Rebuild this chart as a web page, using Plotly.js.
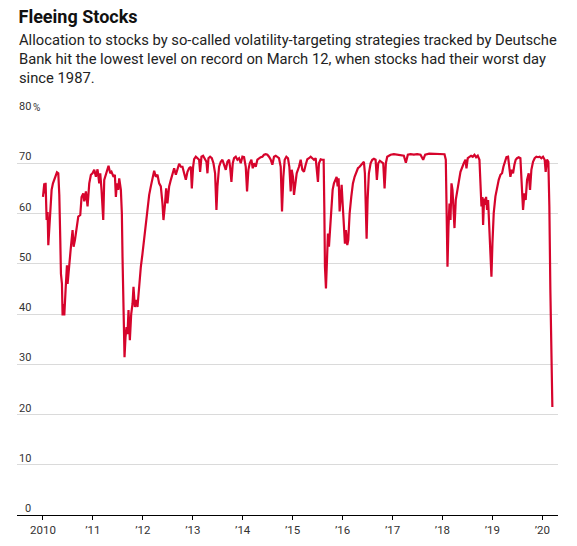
<!DOCTYPE html>
<html>
<head>
<meta charset="utf-8">
<script src="https://cdn.plot.ly/plotly-3.0.1.min.js"></script>
<style>
html,body{margin:0;padding:0;background:#fff;}
#chart{width:577px;height:546px;}
</style>
</head>
<body>
<div id="chart"></div>
<script>
// ---- data (decimal years, allocation %) ----
var years = [
2010.000,2010.027,2010.040,2010.053,2010.073,2010.093,2010.107,2010.127,2010.147,2010.173,
2010.200,2010.227,2010.260,2010.280,2010.307,2010.327,2010.347,2010.360,2010.380,2010.393,
2010.413,2010.427,2010.453,2010.480,2010.493,2010.527,2010.560,2010.593,2010.613,2010.640,
2010.680,2010.707,2010.747,2010.773,2010.807,2010.827,2010.860,2010.893,2010.927,2010.960,
2010.993,2011.027,2011.060,2011.093,2011.127,2011.147,2011.173,2011.207,2011.227,2011.260,
2011.293,2011.313,2011.347,2011.373,2011.413,2011.440,2011.460,2011.480,2011.507,2011.527,
2011.560,2011.580,2011.593,2011.607,2011.620,2011.633,2011.653,2011.673,2011.693,2011.713,
2011.740,2011.767,2011.793,2011.813,2011.840,2011.867,2011.893,2011.927,2011.960,2011.993,
2012.027,2012.060,2012.093,2012.127,2012.160,2012.193,2012.227,2012.260,2012.293,2012.327,
2012.360,2012.393,2012.413,2012.440,2012.467,2012.493,
2012.527,2012.561,2012.594,2012.627,2012.661,2012.694,2012.727,2012.761,2012.794,2012.827,
2012.861,2012.894,2012.927,2012.961,2012.981,2013.007,2013.027,2013.061,2013.094,2013.127,
2013.147,2013.174,2013.207,2013.241,2013.274,2013.294,2013.314,2013.347,2013.381,2013.414,
2013.447,2013.474,2013.494,2013.527,2013.561,2013.594,2013.627,2013.661,2013.694,2013.727,
2013.747,2013.774,2013.801,2013.827,2013.861,2013.894,2013.927,2013.961,2013.994,2014.027,
2014.061,2014.087,2014.114,2014.141,2014.174,2014.201,2014.227,2014.261,2014.294,2014.327,
2014.361,2014.394,2014.427,2014.461,2014.494,2014.527,2014.561,2014.594,2014.627,2014.661,
2014.694,2014.727,2014.761,2014.787,2014.814,2014.841,2014.874,2014.907,2014.934,2014.961,
2014.981,2015.007,2015.027,2015.054,2015.081,
2015.127,2015.161,2015.194,2015.227,2015.261,2015.294,2015.327,2015.361,2015.394,2015.427,
2015.461,2015.481,2015.507,2015.527,2015.561,2015.594,2015.621,2015.634,2015.647,2015.667,
2015.687,2015.707,2015.727,2015.747,2015.774,2015.801,2015.827,2015.854,2015.881,2015.901,
2015.921,2015.941,2015.961,2015.981,2016.001,2016.027,2016.047,2016.067,2016.094,2016.114,
2016.141,2016.174,2016.207,2016.241,2016.274,2016.307,2016.341,2016.374,2016.407,2016.427,
2016.447,2016.467,2016.481,2016.501,2016.527,2016.561,2016.594,2016.627,2016.661,2016.687,
2016.714,2016.747,2016.781,2016.814,2016.841,2016.867,2016.894,2016.961,2017.027,2017.094,
2017.161,2017.227,2017.267,2017.307,2017.361,2017.427,2017.494,2017.561,2017.614,2017.654,
2017.734,
2017.827,2017.961,2018.041,2018.067,2018.081,2018.101,2018.121,2018.141,2018.161,2018.181,
2018.201,2018.221,2018.241,2018.267,2018.294,2018.327,2018.361,2018.394,2018.427,2018.461,
2018.481,2018.507,2018.541,2018.574,2018.607,2018.641,2018.674,2018.707,2018.741,2018.761,
2018.781,2018.801,2018.814,2018.834,2018.854,2018.874,2018.894,2018.914,2018.934,2018.954,
2018.981,2019.001,2019.027,2019.061,2019.094,2019.127,2019.161,2019.194,2019.221,2019.247,
2019.281,2019.314,2019.341,2019.361,2019.387,2019.414,2019.441,2019.467,2019.494,2019.527,
2019.561,2019.587,2019.614,2019.641,2019.667,2019.694,2019.727,2019.754,2019.781,2019.814,
2019.847,2019.881,2019.914,2019.947,2019.981,2020.014,2020.047,2020.067,2020.094,2020.121,
2020.141,2020.161,2020.174,2020.187,2020.201
];
var allocation = [
63.3,66.0,64.0,66.1,58.7,60.3,53.7,58.0,60.7,64.7,
66.0,66.7,67.7,68.2,68.0,63.7,54.7,48.0,46.0,39.7,
42.0,39.7,44.8,49.7,46.0,50.7,53.4,56.7,53.4,54.7,
58.0,59.4,59.7,63.3,64.0,62.4,64.4,61.4,66.0,67.7,
68.0,68.7,67.3,68.8,66.0,68.0,64.7,58.7,66.7,68.0,
69.0,69.5,68.0,68.3,67.3,67.7,63.3,66.0,64.7,67.0,
64.7,60.0,51.4,41.4,33.5,31.4,35.4,37.4,36.0,40.8,
34.8,40.0,42.0,45.4,41.4,42.8,41.4,46.0,49.4,52.0,
55.0,58.7,62.0,63.7,65.4,67.3,68.5,67.3,67.7,66.0,
65.4,62.0,58.7,61.4,65.0,62.0,
65.4,66.7,68.0,69.0,67.7,68.7,69.9,69.3,69.3,68.0,
66.7,68.3,69.0,69.3,65.0,69.3,70.8,71.3,71.0,70.7,
68.3,71.3,71.5,71.0,70.3,68.0,71.0,71.3,71.0,70.0,
68.0,60.7,65.4,69.3,70.3,70.7,69.7,68.7,70.3,70.7,
69.3,66.3,70.0,71.0,71.3,70.7,71.0,70.0,71.3,71.2,
69.3,64.4,68.7,70.0,70.7,69.0,70.0,69.3,70.7,71.0,
71.2,71.3,71.7,71.8,71.7,71.3,70.7,69.7,71.3,71.5,
71.3,71.0,69.3,60.4,67.3,70.7,71.3,71.0,69.3,64.4,
68.7,67.3,63.7,66.0,68.0,
69.3,70.7,68.7,68.3,69.7,70.8,71.0,71.3,71.0,70.7,
71.0,69.3,66.3,70.0,70.8,70.7,70.7,61.4,49.4,45.1,
49.4,56.0,53.4,56.7,62.0,64.7,66.0,66.7,67.3,65.4,
67.0,60.4,64.0,65.7,62.0,56.7,54.0,56.7,53.7,54.7,
60.0,63.3,66.0,67.3,68.3,69.0,69.3,69.7,70.0,70.3,
68.0,61.4,55.0,62.7,68.0,70.0,70.7,70.9,70.7,66.7,
70.0,70.5,70.3,70.0,65.0,70.0,71.3,71.7,71.8,71.7,
71.6,71.5,70.1,71.7,71.8,71.7,71.8,71.7,70.7,71.7,
71.9,
71.9,71.8,71.8,70.7,61.4,49.4,57.4,62.0,58.7,66.0,
64.7,59.4,57.1,62.7,64.7,66.3,68.3,69.3,70.0,70.7,
69.0,71.0,71.3,71.5,71.3,71.7,71.2,71.5,70.7,66.7,
61.4,63.3,57.7,63.0,61.7,63.3,60.7,62.7,57.4,54.7,
47.4,54.0,60.1,63.4,65.4,66.7,67.7,68.0,69.3,70.3,
71.2,71.3,69.3,67.3,68.7,68.0,69.7,70.7,71.0,71.2,
71.0,64.7,60.7,64.0,62.7,66.7,68.0,64.7,68.7,70.3,
71.0,71.3,71.2,71.3,71.0,71.3,70.7,68.3,70.7,70.3,
61.4,44.8,34.8,28.2,21.5
];
var xTickVals = [2010,2011,2012,2013,2014,2015,2016,2017,2018,2019,2020];
var xTickText = ['2010',"\u201911","\u201912","\u201913","\u201914","\u201915","\u201916","\u201917","\u201918","\u201919","\u201920"];
var yTickVals = [0,10,20,30,40,50,60,70,80];
var yTickText = ['0','10','20','30','40','50','60','70','80'];
var titleText = 'Fleeing Stocks';
var subtitleLines = [
  'Allocation to stocks by so-called volatility-targeting strategies tracked by Deutsche',
  'Bank hit the lowest level on record on March 12, when stocks had their worst day',
  'since 1987.'
];

// ---- layout geometry ----
var W = 577, H = 546;
var M = {l:17, r:19, t:113, b:31};
var plotW = W - M.l - M.r, plotH = H - M.t - M.b;
function px2paperX(px){ return (px - M.l) / plotW; }
function px2paperY(py){ return (H - M.b - py) / plotH; }

var FONT = 'Roboto, "Noto Sans", sans-serif';

var annotations = [];
yTickVals.forEach(function(v, i){
  annotations.push({
    xref:'paper', yref:'y', x:px2paperX(31.5), y:v,
    xanchor:'right', yanchor:'bottom', yshift:-1,
    text:yTickText[i], showarrow:false, borderpad:0,
    font:{family:FONT, size:11, color:'#333'}
  });
});
annotations.push({
  xref:'paper', yref:'y', x:px2paperX(32), y:80,
  xanchor:'left', yanchor:'bottom', yshift:-1,
  text:'%', showarrow:false, borderpad:0,
  font:{family:FONT, size:10, color:'#333'}
});
annotations.push({
  xref:'paper', yref:'paper', x:px2paperX(18), y:px2paperY(30),
  xanchor:'left', yanchor:'top', align:'left',
  text:subtitleLines.join('<br>'), showarrow:false, borderpad:0,
  font:{family:FONT, size:14.75, color:'#222'}
});

var trace = {
  x: years, y: allocation, type:'scatter', mode:'lines',
  line:{color:'#d6042c', width:2.2}, hoverinfo:'skip'
};

var layout = {
  width:W, height:H,
  margin:M,
  paper_bgcolor:'#fff', plot_bgcolor:'#fff',
  showlegend:false,
  title:{
    text:'<b>'+titleText+'</b>',
    xref:'container', yref:'container',
    x:18.5/W, xanchor:'left', y:1 - 10/H, yanchor:'top',
    font:{family:FONT, size:18, color:'#111'}
  },
  xaxis:{
    type:'linear', range:[2009.48, 2020.314],
    tickvals:xTickVals, ticktext:xTickText,
    showgrid:false, zeroline:false,
    showline:true, linecolor:'#000', linewidth:1,
    ticks:'outside', ticklen:4, tickcolor:'#000', tickwidth:1,
    tickfont:{family:FONT, size:11.5, color:'#333'}
  },
  yaxis:{
    range:[0,80], tickvals:yTickVals, showticklabels:false,
    showgrid:true, gridcolor:'#dadada', gridwidth:1,
    zeroline:false, showline:false, ticks:''
  },
  annotations:annotations
};

Plotly.newPlot('chart', [trace], layout, {staticPlot:true, displayModeBar:false});
</script>
</body>
</html>
